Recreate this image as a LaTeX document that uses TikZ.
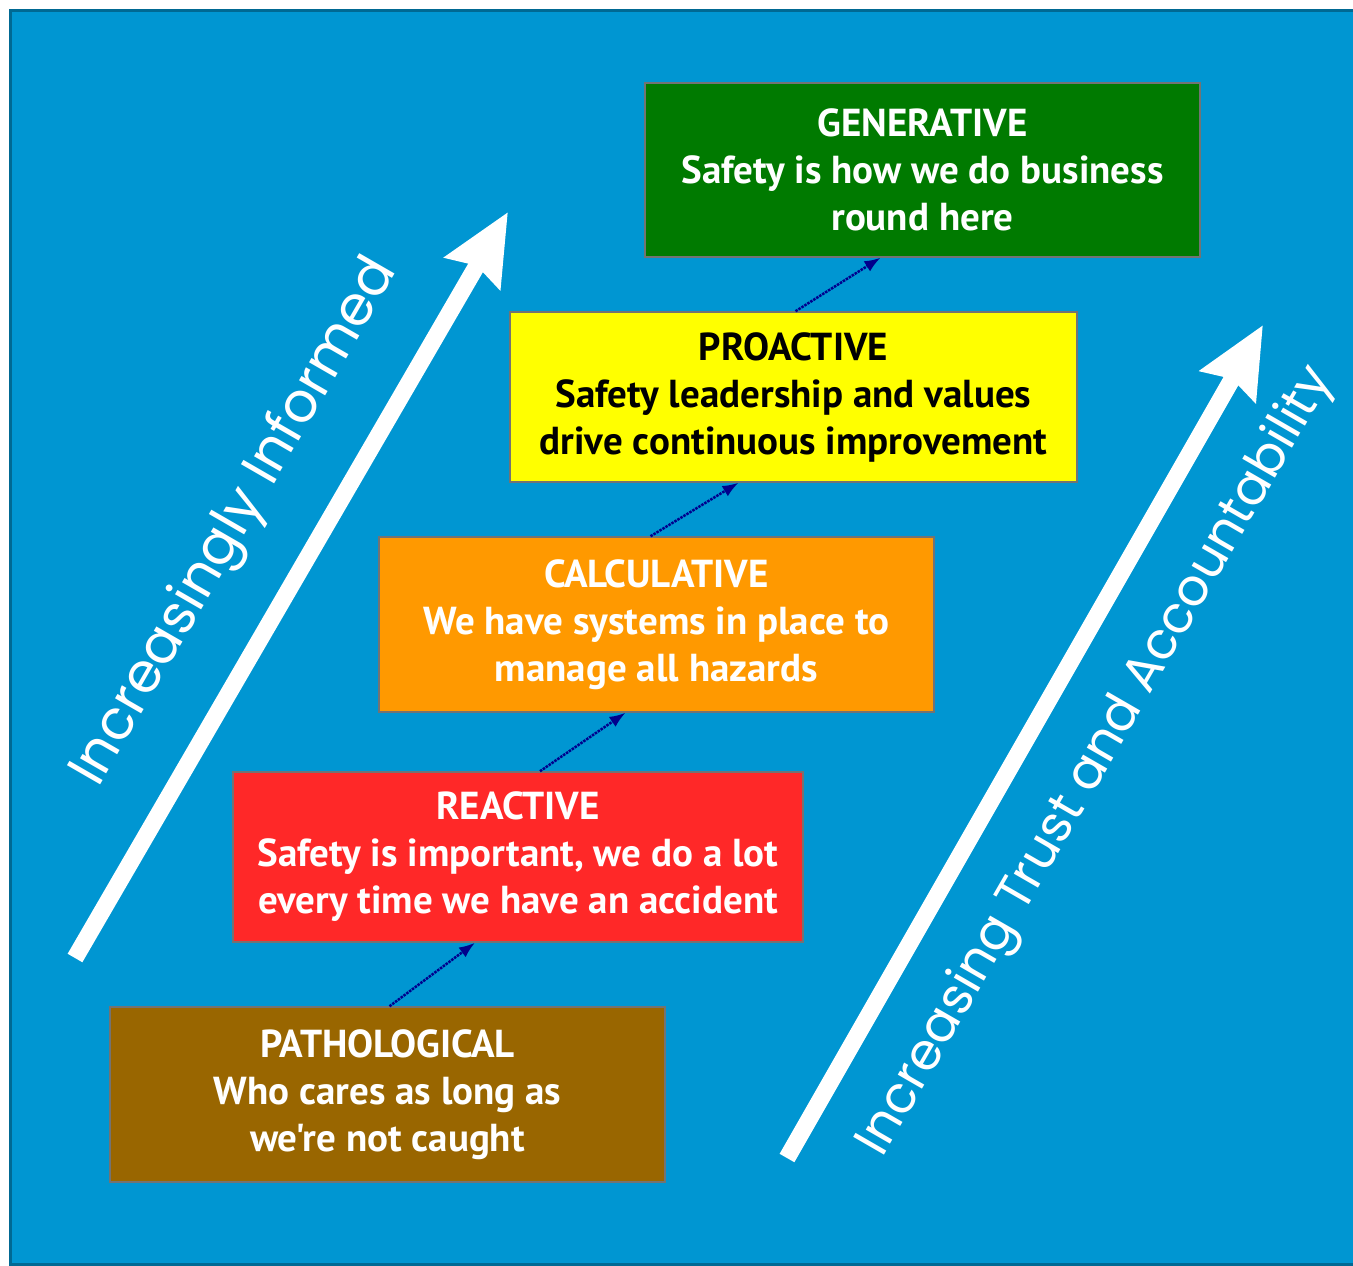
\documentclass[tikz,border=0pt]{standalone}
\usepackage{fontspec}
\setmainfont{PT Sans}
\newfontfamily\boxfont{PT Sans}
\newfontfamily\sidefont{Poppins}
\usetikzlibrary{arrows.meta}

\definecolor{skyblue}{RGB}{0,150,210}
\definecolor{genGreen}{RGB}{0,122,0}
\definecolor{proYellow}{RGB}{255,255,0}
\definecolor{calOrange}{RGB}{255,153,0}
\definecolor{reaRed}{RGB}{255,40,40}
\definecolor{patBrown}{RGB}{153,102,0}
\definecolor{stepNavy}{RGB}{0,0,140}

\begin{document}
\begin{tikzpicture}[x=1pt,y=-1pt]
    \tikzstyle{level}      = [draw=black!55, line width=1.5pt, inner sep=0pt, align=center,
                              text=white, font=\boxfont\bfseries\fontsize{39}{47}\selectfont]
    \tikzstyle{step link}  = [draw=stepNavy, densely dotted, line width=2.5pt,
                              -{Latex[length=16pt,width=12pt]}]
    \tikzstyle{big arrow}  = [draw=white, line width=17pt,
                              -{Stealth[length=70pt,width=62pt,inset=8pt]}]
    \tikzstyle{side label} = [text=white, rotate=60]

    % background
    \useasboundingbox[fill=white] (0,0) rectangle (1353,1266);
    \fill[skyblue, draw=skyblue!70!black, line width=3pt] (10,10) rectangle (1356,1264);

    % the five levels
    \node[level, fill=genGreen,   minimum width=555pt, minimum height=174pt] (gen) at (922.5,170)
        {GENERATIVE\\Safety is how we do business\\round here};
    \node[level, fill=proYellow,  minimum width=567pt, minimum height=170pt, text=black] (pro) at (793.5,397)
        {PROACTIVE\\Safety leadership and values\\drive continuous improvement};
    \node[level, fill=calOrange,  minimum width=555pt, minimum height=175pt] (cal) at (656.5,624.5)
        {CALCULATIVE\\We have systems in place to\\manage all hazards};
    \node[level, fill=reaRed,     minimum width=570pt, minimum height=170pt] (rea) at (518,857)
        {REACTIVE\\Safety is important, we do a lot\\every time we have an accident};
    \node[level, fill=patBrown,   minimum width=555pt, minimum height=175pt] (pat) at (387.5,1094.5)
        {PATHOLOGICAL\\Who cares as long as\\we're not caught};

    \draw[step link] ([xshift=2pt]pat.north)  -- ([xshift=-43pt]rea.south);
    \draw[step link] ([xshift=22pt]rea.north) -- ([xshift=-31pt]cal.south);
    \draw[step link] ([xshift=-6pt]cal.north) -- ([xshift=-55pt]pro.south);
    \draw[step link] ([xshift=2pt]pro.north)  -- ([xshift=-42pt]gen.south);

    % the two big arrows
    \coordinate (inf0) at (75,958);
    \coordinate (inf1) at (508,212);
    \coordinate (acc0) at (787,1158);
    \coordinate (acc1) at (1263,325);
    \draw[big arrow] (inf0) -- (inf1);
    \draw[big arrow] (acc0) -- (acc1);

    \node[side label, font=\sidefont\fontsize{55}{60}\selectfont] (informed) at (236,523)
        {Increasingly Informed};
    \node[side label, font=\sidefont\fontsize{51}{56}\selectfont] (trust)    at (1097,762)
        {Increasing Trust and Accountability};
\end{tikzpicture}
\end{document}
